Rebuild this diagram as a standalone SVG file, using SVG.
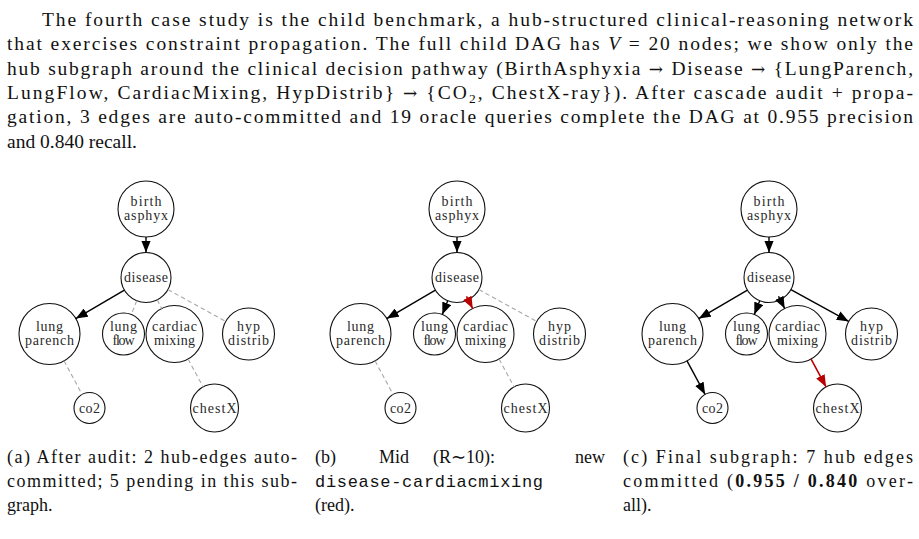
<svg xmlns="http://www.w3.org/2000/svg" width="919" height="539" viewBox="0 0 919 539">
<defs>
<style>
.node circle{fill:#fff;stroke:#111;stroke-width:1.1}
.node text{font-family:"Liberation Serif",serif;font-size:14px;fill:#2a2a2a;text-anchor:middle}
.e{stroke:#000;stroke-width:1.4;fill:none;marker-end:url(#ah)}
.r{stroke:#b80000;stroke-width:1.6;fill:none;marker-end:url(#ahr)}
.d{stroke:#a8a8a8;stroke-width:1.1;stroke-dasharray:4.5 3;fill:none}
.body{font-family:"Liberation Serif",serif;font-size:19.5px;fill:#111}
.cap{font-family:"Liberation Serif",serif;font-size:18px;fill:#111}
.mono{font-family:"Liberation Mono",monospace;font-size:17px}
.it{font-style:italic}
.b{font-weight:bold}
.ar{font-family:"DejaVu Serif",serif;font-size:17px}
</style>
<marker id="ah" viewBox="0 0 12 9.5" refX="12" refY="4.75" markerWidth="12" markerHeight="9.5" markerUnits="userSpaceOnUse" orient="auto"><path d="M0,0 L12,4.75 L0,9.5 z" fill="#000"/></marker>
<marker id="ahr" viewBox="0 0 12 9.5" refX="12" refY="4.75" markerWidth="12" markerHeight="9.5" markerUnits="userSpaceOnUse" orient="auto"><path d="M0,0 L12,4.75 L0,9.5 z" fill="#b80000"/></marker>
</defs>
<rect width="919" height="539" fill="#fff"/>

<g id="paragraph" class="body">
<text x="42" y="26" textLength="871" lengthAdjust="spacing">The fourth case study is the child benchmark, a hub-structured clinical-reasoning network</text>
<text x="7" y="50.3" textLength="906" lengthAdjust="spacing">that exercises constraint propagation. The full child DAG has <tspan class="it">V</tspan> = 20 nodes; we show only the</text>
<text x="7" y="74.6" textLength="906" lengthAdjust="spacing">hub subgraph around the clinical decision pathway (BirthAsphyxia <tspan class="ar">→</tspan> Disease <tspan class="ar">→</tspan> {LungParench,</text>
<text x="7" y="98.9" textLength="906" lengthAdjust="spacing">LungFlow, CardiacMixing, HypDistrib} <tspan class="ar">→</tspan> {CO<tspan font-size="13.5" dy="4">2</tspan><tspan dy="-4">, ChestX-ray}). After cascade audit + propa-</tspan></text>
<text x="7" y="123.2" textLength="906" lengthAdjust="spacing">gation, 3 edges are auto-committed and 19 oracle queries complete the DAG at 0.955 precision</text>
<text x="7" y="147.5">and 0.840 recall.</text>
</g>

<!-- Panel (a) -->
<g id="panel-a">
<g id="a-birth" class="node" transform="translate(146,209)"><circle r="28"/><text y="-3.5" textLength="31">birth</text><text y="10.5" textLength="44">asphyx</text></g>
<g id="a-disease" class="node" transform="translate(146,277.5)"><circle r="25"/><text y="4.5" textLength="44">disease</text></g>
<g id="a-lungparench" class="node" transform="translate(49.5,334)"><circle r="30.5"/><text y="-3.5" textLength="27">lung</text><text y="10.5" textLength="49">parench</text></g>
<g id="a-lungflow" class="node" transform="translate(123.5,334)"><circle r="21"/><text y="-3.5" textLength="27">lung</text><text y="10.5" textLength="22">flow</text></g>
<g id="a-cardiac" class="node" transform="translate(174.5,334)"><circle r="28.5"/><text y="-3.5" textLength="45">cardiac</text><text y="10.5" textLength="41">mixing</text></g>
<g id="a-hyp" class="node" transform="translate(248.5,334)"><circle r="26"/><text y="-3.5" textLength="23">hyp</text><text y="10.5" textLength="41">distrib</text></g>
<g id="a-co2" class="node" transform="translate(89.5,408)"><circle r="15.5"/><text y="4.5" textLength="21">co2</text></g>
<g id="a-chestx" class="node" transform="translate(214.5,408)"><circle r="24"/><text y="4.5" textLength="44">chestX</text></g>
<g id="a-edges">
<line class="e" x1="146" y1="237" x2="146" y2="252.5"/>
<line class="e" x1="124.4" y1="290.1" x2="75.8" y2="318.6"/>
<line class="d" x1="136.75" y1="300.7" x2="131.3" y2="314.5"/>
<line class="d" x1="157.25" y1="299.8" x2="161.7" y2="308.6"/>
<line class="d" x1="167.9" y1="289.6" x2="225.7" y2="321.4"/>
<line class="d" x1="64" y1="360.8" x2="82.1" y2="394.4"/>
<line class="d" x1="188.1" y1="359.1" x2="203.1" y2="386.9"/>
</g>
</g>

<!-- Panel (b) -->
<g id="panel-b" transform="translate(311,0)">
<g id="b-birth" class="node" transform="translate(146,209)"><circle r="28"/><text y="-3.5" textLength="31">birth</text><text y="10.5" textLength="44">asphyx</text></g>
<g id="b-disease" class="node" transform="translate(146,277.5)"><circle r="25"/><text y="4.5" textLength="44">disease</text></g>
<g id="b-lungparench" class="node" transform="translate(49.5,334)"><circle r="30.5"/><text y="-3.5" textLength="27">lung</text><text y="10.5" textLength="49">parench</text></g>
<g id="b-lungflow" class="node" transform="translate(123.5,334)"><circle r="21"/><text y="-3.5" textLength="27">lung</text><text y="10.5" textLength="22">flow</text></g>
<g id="b-cardiac" class="node" transform="translate(174.5,334)"><circle r="28.5"/><text y="-3.5" textLength="45">cardiac</text><text y="10.5" textLength="41">mixing</text></g>
<g id="b-hyp" class="node" transform="translate(248.5,334)"><circle r="26"/><text y="-3.5" textLength="23">hyp</text><text y="10.5" textLength="41">distrib</text></g>
<g id="b-co2" class="node" transform="translate(89.5,408)"><circle r="15.5"/><text y="4.5" textLength="21">co2</text></g>
<g id="b-chestx" class="node" transform="translate(214.5,408)"><circle r="24"/><text y="4.5" textLength="44">chestX</text></g>
<g id="b-edges">
<line class="e" x1="146" y1="237" x2="146" y2="252.5"/>
<line class="e" x1="124.4" y1="290.1" x2="75.8" y2="318.6"/>
<line class="e" x1="136.75" y1="300.7" x2="131.3" y2="314.5"/>
<line class="r" x1="155.5" y1="296.3" x2="161.7" y2="308.6"/>
<line class="d" x1="167.9" y1="289.6" x2="225.7" y2="321.4"/>
<line class="d" x1="64" y1="360.8" x2="82.1" y2="394.4"/>
<line class="d" x1="188.1" y1="359.1" x2="203.1" y2="386.9"/>
</g>
</g>

<!-- Panel (c) -->
<g id="panel-c" transform="translate(623,0)">
<g id="c-birth" class="node" transform="translate(146,209)"><circle r="28"/><text y="-3.5" textLength="31">birth</text><text y="10.5" textLength="44">asphyx</text></g>
<g id="c-disease" class="node" transform="translate(146,277.5)"><circle r="25"/><text y="4.5" textLength="44">disease</text></g>
<g id="c-lungparench" class="node" transform="translate(49.5,334)"><circle r="30.5"/><text y="-3.5" textLength="27">lung</text><text y="10.5" textLength="49">parench</text></g>
<g id="c-lungflow" class="node" transform="translate(123.5,334)"><circle r="21"/><text y="-3.5" textLength="27">lung</text><text y="10.5" textLength="22">flow</text></g>
<g id="c-cardiac" class="node" transform="translate(174.5,334)"><circle r="28.5"/><text y="-3.5" textLength="45">cardiac</text><text y="10.5" textLength="41">mixing</text></g>
<g id="c-hyp" class="node" transform="translate(248.5,334)"><circle r="26"/><text y="-3.5" textLength="23">hyp</text><text y="10.5" textLength="41">distrib</text></g>
<g id="c-co2" class="node" transform="translate(89.5,408)"><circle r="15.5"/><text y="4.5" textLength="21">co2</text></g>
<g id="c-chestx" class="node" transform="translate(214.5,408)"><circle r="24"/><text y="4.5" textLength="44">chestX</text></g>
<g id="c-edges">
<line class="e" x1="146" y1="237" x2="146" y2="252.5"/>
<line class="e" x1="124.4" y1="290.1" x2="75.8" y2="318.6"/>
<line class="e" x1="136.75" y1="300.7" x2="131.3" y2="314.5"/>
<line class="e" x1="155.5" y1="296.3" x2="161.7" y2="308.6"/>
<line class="e" x1="167.9" y1="289.6" x2="225.7" y2="321.4"/>
<line class="e" x1="64" y1="360.8" x2="82.1" y2="394.4"/>
<line class="r" x1="188.1" y1="359.1" x2="203.1" y2="386.9"/>
</g>
</g>

<g id="captions" class="cap">
<text x="7" y="463" textLength="290" lengthAdjust="spacing">(a) After audit:  2 hub-edges auto-</text>
<text x="7" y="487" textLength="290" lengthAdjust="spacing">committed; 5 pending in this sub-</text>
<text x="7" y="511">graph.</text>
<text x="315" y="463">(b)</text>
<text x="379" y="463">Mid</text>
<text x="433" y="463">(R∼10):</text>
<text x="605" y="463" text-anchor="end">new</text>
<text x="315" y="487" class="mono" textLength="228" lengthAdjust="spacing">disease-cardiacmixing</text>
<text x="315" y="511">(red).</text>
<text x="623" y="463" textLength="290" lengthAdjust="spacing">(c) Final subgraph: 7 hub edges</text>
<text x="623" y="487" textLength="290" lengthAdjust="spacing">committed (<tspan class="b">0.955 / 0.840</tspan> over-</text>
<text x="623" y="511">all).</text>
</g>
</svg>
